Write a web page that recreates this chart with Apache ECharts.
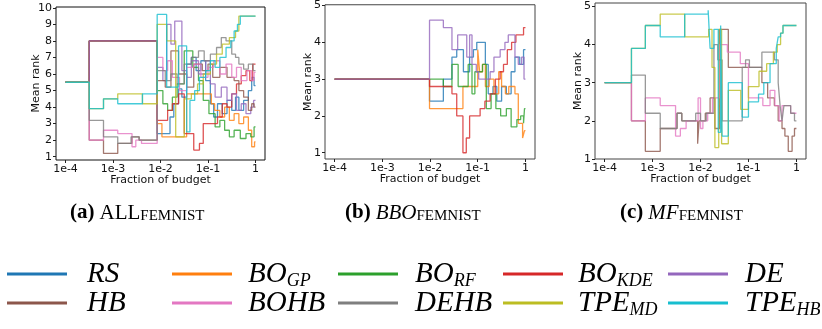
<!DOCTYPE html>
<html>
<head>
<meta charset="utf-8">
<script src="https://cdn.jsdelivr.net/npm/echarts@6/dist/echarts.min.js"></script>
<style>
  html, body { margin: 0; padding: 0; background: #fff; }
  #chart { width: 822px; height: 329px; }
</style>
</head>
<body>
<div id="chart"></div>
<script>
// Optimisers compared, in drawing order, with their colours
const methods = ['RS', 'BO_GP', 'BO_RF', 'BO_KDE', 'DE', 'HB', 'BOHB', 'DEHB', 'TPE_MD', 'TPE_HB'];
const colors = ['#1f77b4', '#ff7f0e', '#2ca02c', '#d62728', '#9467bd',
                '#8c564b', '#e377c2', '#7f7f7f', '#bcbd22', '#17becf'];

// x ticks are powers of ten of the budget fraction (stored as log10 exponents)
const xTickExp = [-4, -3, -2, -1, 0];
const xTickLabels = ['1e-4', '1e-3', '1e-2', '1e-1', '1'];
const yTicksAll = [1, 2, 3, 4, 5, 6, 7, 8, 9, 10];
const yTicksFive = [1, 2, 3, 4, 5];

// Mean-rank traces; each point is [log10(fraction of budget), mean rank],
// the rank holds until the next point.

// (a) all ten optimisers
const allRS = [[-4,5.5],[-3.5,8],[-2.07,2.4],[-1.8,3.4],[-1.72,4.2],[-1.62,5.1],[-1.55,4.6],[-1.45,6.6],[-1.35,7.0],[-1.25,6.2],[-1.15,6.8],[-1.05,5.6],[-0.95,4.2],[-0.88,3.4],[-0.8,4.2],[-0.7,3.6],[-0.6,4.4],[-0.5,3.8],[-0.42,4.6],[-0.35,3.8],[-0.25,4.4],[-0.15,5.0],[-0.08,5.8],[-0.03,5.3],[0,5.3]];
const allGP = [[-4,5.5],[-3.5,8],[-2.07,3.0],[-1.97,2.2],[-1.45,4.8],[-0.93,4.2],[-0.86,3.8],[-0.75,3.4],[-0.65,4.0],[-0.55,3.2],[-0.45,3.6],[-0.35,3.0],[-0.25,3.4],[-0.15,2.6],[-0.08,1.6],[-0.02,1.9],[0,1.9]];
const allRF = [[-4,5.5],[-3.5,8],[-2.07,5.0],[-1.95,4.2],[-1.85,3.8],[-1.75,4.6],[-1.65,5.4],[-1.5,7.4],[-1.32,6.4],[-1.2,5.6],[-1.1,4.4],[-0.98,3.6],[-0.85,2.8],[-0.75,3.2],[-0.65,2.6],[-0.55,2.2],[-0.45,2.6],[-0.32,2.1],[-0.2,2.4],[-0.1,2.2],[-0.03,2.8],[0,2.8]];
const allKDE = [[-4,5.5],[-3.5,8],[-2.07,3.2],[-1.85,3.8],[-1.75,4.2],[-1.62,4.8],[-1.5,2.4],[-1.3,1.4],[-1.18,1.8],[-1.1,3.0],[-0.8,3.4],[-0.7,4.2],[-0.6,4.0],[-0.5,4.8],[-0.4,5.4],[-0.3,5.9],[-0.2,6.2],[-0.12,5.6],[-0.06,6.6],[0,6.6]];
const allDE = [[-4,5.5],[-3.5,8],[-2.07,6.4],[-1.95,5.6],[-1.87,9.0],[-1.78,7.8],[-1.7,9.2],[-1.55,6.2],[-1.45,5.8],[-1.35,6.8],[-1.2,6.0],[-1.05,6.8],[-0.95,5.4],[-0.85,4.6],[-0.72,5.2],[-0.6,4.4],[-0.5,4.8],[-0.4,3.8],[-0.3,4.2],[-0.2,3.6],[-0.1,4.0],[-0.04,4.4],[0,4.4]];
const allHB = [[-4,5.5],[-3.5,2.0],[-3.2,1.2],[-2.9,1.8],[-2.6,2.2],[-2.45,2.0],[-2.07,5.6],[-1.9,5.2],[-1.78,7.4],[-1.62,6.0],[-1.45,5.2],[-1.3,6.6],[-1.12,6.2],[-1.0,6.6],[-0.9,5.8],[-0.75,6.4],[-0.6,5.8],[-0.45,5.6],[-0.35,5.0],[-0.25,4.6],[-0.15,3.8],[-0.08,4.2],[-0.03,4.0],[0,4.0]];
const allBOHB = [[-4,5.5],[-3.5,2.0],[-3.2,2.6],[-2.9,2.4],[-2.6,1.6],[-2.52,2.0],[-2.4,1.8],[-2.07,7.0],[-1.95,6.2],[-1.85,6.8],[-1.75,5.8],[-1.6,5.0],[-1.45,6.4],[-1.3,6.6],[-1.15,5.8],[-1.0,6.4],[-0.88,6.8],[-0.75,6.0],[-0.62,6.6],[-0.5,5.8],[-0.4,6.4],[-0.3,5.6],[-0.18,6.2],[-0.08,5.6],[-0.03,6.1],[0,6.1]];
const allDEHB = [[-4,5.5],[-3.5,3.2],[-3.2,2.2],[-2.9,1.8],[-2.62,2.2],[-2.45,2.0],[-2.07,6.2],[-1.9,5.6],[-1.78,6.0],[-1.65,5.4],[-1.5,6.6],[-1.35,7.0],[-1.2,7.4],[-1.08,6.8],[-0.95,7.2],[-0.82,7.6],[-0.72,8.2],[-0.62,8.0],[-0.5,7.2],[-0.42,7.0],[-0.35,6.6],[-0.25,6.3],[-0.15,6.6],[-0.05,6.2],[0,6.2]];
const allTPEMD = [[-4,5.5],[-3.5,3.9],[-3.2,4.5],[-2.9,4.8],[-2.38,4.2],[-2.07,9.0],[-1.87,8.0],[-1.68,2.2],[-1.5,4.5],[-1.35,4.8],[-1.22,5.4],[-1.1,6.0],[-0.95,6.6],[-0.82,7.2],[-0.7,7.8],[-0.55,8.2],[-0.42,8.6],[-0.35,9.5],[0,9.5]];
const allTPEHB = [[-4,5.5],[-3.5,3.9],[-3.2,4.5],[-2.9,4.2],[-2.38,4.8],[-2.07,9.6],[-1.87,5.2],[-1.62,7.7],[-1.45,2.5],[-1.38,4.4],[-1.28,5.0],[-1.18,5.8],[-1.05,6.2],[-0.95,6.8],[-0.85,6.4],[-0.75,7.0],[-0.62,7.6],[-0.52,8.0],[-0.45,8.6],[-0.38,9.0],[-0.32,9.5],[0,9.5]];

// (b) black-box optimisers
const bboRS = [[-4,3],[-2.01,2.4],[-1.72,3.0],[-1.54,3.6],[-1.44,3.8],[-1.3,3.2],[-1.17,3.6],[-1.09,3.8],[-1.02,4.0],[-0.84,3.4],[-0.78,2.6],[-0.68,2.8],[-0.6,2.4],[-0.5,2.8],[-0.4,2.6],[-0.3,3.2],[-0.22,3.6],[-0.12,3.4],[-0.04,3.8],[0,3.8]];
const bboGP = [[-4,3],[-2.01,2.2],[-1.31,2.8],[-1.0,3.8],[-0.96,3.2],[-0.9,3.4],[-0.84,2.8],[-0.76,3.0],[-0.66,2.6],[-0.56,3.2],[-0.5,2.8],[-0.42,2.6],[-0.35,2.8],[-0.22,2.6],[-0.15,1.8],[-0.06,1.4],[-0.02,1.6],[0,1.6]];
const bboRF = [[-4,3],[-2.01,3.0],[-1.72,2.8],[-1.54,3.4],[-1.41,2.8],[-1.2,3.4],[-1.12,2.6],[-1.06,3.2],[-0.9,3.4],[-0.82,2.2],[-0.72,2.6],[-0.62,2.2],[-0.52,2.0],[-0.4,2.2],[-0.3,1.7],[-0.18,1.9],[-0.1,2.0],[-0.04,1.8],[-0.02,2.2],[0,2.2]];
const bboKDE = [[-4,3],[-2.01,2.8],[-1.54,2.6],[-1.44,2.0],[-1.31,1.0],[-1.24,1.4],[-1.17,2.0],[-0.95,2.2],[-0.85,2.4],[-0.74,2.6],[-0.63,3.0],[-0.53,3.2],[-0.46,3.4],[-0.38,3.8],[-0.29,4.0],[-0.2,4.2],[-0.04,4.4],[0,4.4]];
const bboDE = [[-4,3],[-2.01,4.6],[-1.72,4.4],[-1.54,3.8],[-1.42,4.2],[-1.23,3.6],[-1.17,4.2],[-1.12,3.4],[-1.03,3.2],[-0.98,3.0],[-0.74,3.2],[-0.66,3.6],[-0.53,3.8],[-0.43,4.0],[-0.36,4.2],[-0.22,3.6],[-0.15,3.4],[-0.08,3.6],[-0.03,3.0],[0,3.0]];

// (c) multi-fidelity optimisers
const mfHB = [[-4,3],[-3.44,2.0],[-3.15,1.2],[-2.84,1.8],[-2.49,2.2],[-2.39,2.0],[-2.06,1.4],[-2.03,2.0],[-1.9,2.2],[-1.8,2.6],[-1.7,1.8],[-1.6,4.4],[-1.42,3.4],[-0.72,3.0],[-0.6,2.6],[-0.46,2.4],[-0.38,2.0],[-0.3,1.8],[-0.24,1.6],[-0.17,1.2],[-0.09,1.6],[-0.04,1.8],[0,1.8]];
const mfBOHB = [[-4,3],[-3.44,2.0],[-3.15,2.6],[-2.84,2.4],[-2.52,1.6],[-2.42,1.8],[-2.3,2.0],[-2.05,2.6],[-2.0,1.8],[-1.95,2.0],[-1.85,2.2],[-1.75,2.6],[-1.6,4.0],[-1.44,3.8],[-1.17,3.5],[-1.0,2.6],[-0.7,2.4],[-0.55,2.8],[-0.45,2.4],[-0.36,2.0],[-0.3,2.4],[-0.12,2.2],[0,2.2]];
const mfDEHB = [[-4,3],[-3.44,3.2],[-3.15,2.2],[-2.84,1.8],[-2.49,2.2],[-2.39,2.0],[-2.1,2.2],[-2.0,2.0],[-1.88,2.2],[-1.72,4.0],[-1.64,3.6],[-1.55,2.0],[-1.13,3.4],[-1.06,3.6],[-0.98,3.4],[-0.72,3.8],[-0.46,3.6],[-0.38,3.0],[-0.34,2.4],[-0.3,2.0],[-0.26,2.4],[-0.12,2.2],[-0.04,2.0],[0,2.0]];
const mfTPEMD = [[-4,3],[-3.44,3.9],[-3.15,4.5],[-2.84,4.8],[-2.33,4.2],[-1.83,4.4],[-1.76,3.4],[-1.7,1.3],[-1.62,4.4],[-1.56,1.4],[-1.42,2.8],[-1.16,2.3],[-1.0,2.9],[-0.78,3.3],[-0.62,3.5],[-0.48,3.8],[-0.4,4.0],[-0.33,4.3],[-0.28,4.5],[0,4.5]];
const mfTPEHB = [[-4,3],[-3.44,3.9],[-3.15,4.5],[-2.84,4.2],[-2.33,4.8],[-1.84,4.9],[-1.8,3.9],[-1.72,4.4],[-1.63,1.7],[-1.58,4.5],[-1.55,1.6],[-1.42,3.0],[-1.13,2.1],[-1.0,2.5],[-0.79,2.7],[-0.68,3.0],[-0.55,3.5],[-0.42,3.9],[-0.38,4.2],[-0.33,4.3],[-0.28,4.5],[0,4.5]];

const panelA = { RS: allRS, BO_GP: allGP, BO_RF: allRF, BO_KDE: allKDE, DE: allDE,
                 HB: allHB, BOHB: allBOHB, DEHB: allDEHB, TPE_MD: allTPEMD, TPE_HB: allTPEHB };
const panelB = { RS: bboRS, BO_GP: bboGP, BO_RF: bboRF, BO_KDE: bboKDE, DE: bboDE };
const panelC = { HB: mfHB, BOHB: mfBOHB, DEHB: mfDEHB, TPE_MD: mfTPEMD, TPE_HB: mfTPEHB };

// ---- layout ----
const AX_FONT = 'DejaVu Sans';
const SERIF = 'Liberation Serif';
const panels = [
  { data: panelA, grid: { left: 56, top: 7, width: 209, height: 153 }, y: [0.8, 10.05], yTicks: yTicksAll, nameGap: 14, frame: '#111' },
  { data: panelB, grid: { left: 325, top: 4, width: 210, height: 155 }, y: [0.83, 5.02], yTicks: yTicksFive, nameGap: 11, frame: '#444' },
  { data: panelC, grid: { left: 595, top: 3, width: 211, height: 156 }, y: [1.0, 5.09], yTicks: yTicksFive, nameGap: 11, frame: '#444' }
];

const grids = [], xAxes = [], yAxes = [], series = [];
panels.forEach((p, i) => {
  grids.push(Object.assign({ show: true, borderColor: p.frame, borderWidth: 1, backgroundColor: 'transparent' }, p.grid));
  xAxes.push({
    type: 'value', gridIndex: i, min: -4.2, max: 0.2,
    axisLine: { show: false, onZero: false }, splitLine: { show: false },
    axisTick: { show: true, inside: false, length: 3, customValues: xTickExp, lineStyle: { color: '#222' } },
    axisLabel: { customValues: xTickExp, margin: 4, fontSize: 11, fontFamily: AX_FONT, color: '#111',
                 formatter: v => xTickLabels[xTickExp.indexOf(Math.round(v))] },
    name: 'Fraction of budget', nameLocation: 'middle', nameGap: 15, nameMoveOverlap: false,
    nameTextStyle: { fontSize: 11, fontFamily: AX_FONT, color: '#111' }
  });
  yAxes.push({
    type: 'value', gridIndex: i, min: p.y[0], max: p.y[1],
    axisLine: { show: false, onZero: false }, splitLine: { show: false },
    axisTick: { show: true, inside: false, length: 3, customValues: p.yTicks, lineStyle: { color: '#222' } },
    axisLabel: { customValues: p.yTicks, margin: 4, fontSize: 11, fontFamily: AX_FONT, color: '#111' },
    name: 'Mean rank', nameLocation: 'middle', nameGap: p.nameGap, nameRotate: 90, nameMoveOverlap: false,
    nameTextStyle: { fontSize: 11, fontFamily: AX_FONT, color: '#111' }
  });
  methods.forEach((m, k) => {
    if (!p.data[m]) return;
    series.push({
      type: 'line', name: m, xAxisIndex: i, yAxisIndex: i,
      step: 'end', symbol: 'none', silent: true,
      data: p.data[m],
      lineStyle: { color: colors[k], width: 1.3, opacity: 0.8 },
      z: 2 + k
    });
  });
});

// ---- captions and legend as text ----
const mctx = document.createElement('canvas').getContext('2d');
function fontStr(part) {
  return `${part.italic ? 'italic ' : ''}${part.bold ? 'bold ' : ''}${part.size}px "${SERIF}"`;
}
function textRun(parts, x, y) {
  const els = [];
  let cx = x;
  parts.forEach(part => {
    const font = fontStr(part);
    mctx.font = font;
    els.push({
      type: 'text', x: cx, y: y + (part.dy || 0), silent: true,
      style: { text: part.text, font: font, fill: '#000', verticalAlign: 'middle', align: 'left' }
    });
    cx += mctx.measureText(part.text).width + (part.gap || 0);
  });
  return els;
}

const graphics = [];
// sub-figure captions
graphics.push(...textRun([
  { text: '(a)', size: 21, bold: true, gap: 5 }, { text: 'ALL', size: 21 },
  { text: 'FEMNIST', size: 15, dy: 3 }], 70, 213));
graphics.push(...textRun([
  { text: '(b)', size: 21, bold: true, gap: 5 }, { text: 'BBO', size: 21, italic: true },
  { text: 'FEMNIST', size: 15, dy: 3 }], 345, 213));
graphics.push(...textRun([
  { text: '(c)', size: 21, bold: true, gap: 5 }, { text: 'MF', size: 21, italic: true },
  { text: 'FEMNIST', size: 15, dy: 3 }], 620, 213));

// legend entries: [main text, subscript]
const legendText = {
  RS: ['RS', ''], BO_GP: ['BO', 'GP'], BO_RF: ['BO', 'RF'], BO_KDE: ['BO', 'KDE'], DE: ['DE', ''],
  HB: ['HB', ''], BOHB: ['BOHB', ''], DEHB: ['DEHB', ''], TPE_MD: ['TPE', 'MD'], TPE_HB: ['TPE', 'HB']
};
const legendLineX = [7, 172, 338, 503, 668];
const legendTextX = [87, 248, 415, 578, 745];
const legendRowY = [274, 303];
methods.forEach((m, k) => {
  const col = k % 5, row = Math.floor(k / 5);
  const y = legendRowY[row];
  graphics.push({
    type: 'line', silent: true,
    shape: { x1: legendLineX[col], y1: y, x2: legendLineX[col] + 60, y2: y },
    style: { stroke: colors[k], lineWidth: 3 }
  });
  const [main, sub] = legendText[m];
  const parts = [{ text: main, size: 29, italic: true }];
  if (sub) parts.push({ text: sub, size: 18, italic: true, dy: 7 });
  graphics.push(...textRun(parts, legendTextX[col], y));
});

const chart = echarts.init(document.getElementById('chart'), null, { renderer: 'canvas' });
chart.setOption({
  animation: false,
  backgroundColor: '#fff',
  grid: grids,
  xAxis: xAxes,
  yAxis: yAxes,
  series: series,
  graphic: { elements: graphics }
});
</script>
</body>
</html>
